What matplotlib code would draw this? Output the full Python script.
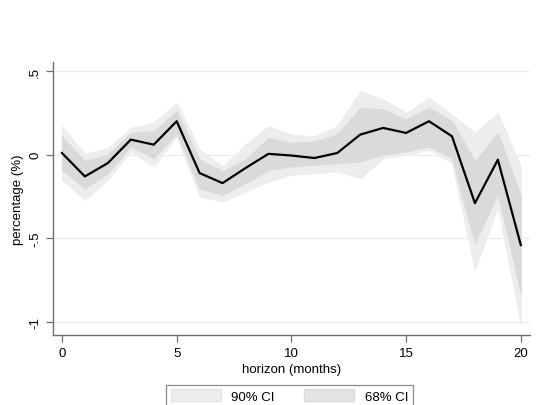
import numpy as np
import matplotlib.pyplot as plt
from matplotlib.patches import Patch

plt.rcParams['font.family'] = ['Liberation Sans', 'DejaVu Sans']

# impulse response over the horizon, with 68% and 90% bands
horizon = np.arange(21)
irf = [0.01, -0.13, -0.05, 0.09, 0.06, 0.20, -0.11, -0.17, -0.08, 0.005, -0.005,
       -0.02, 0.01, 0.12, 0.16, 0.13, 0.20, 0.11, -0.29, -0.03, -0.54]
lo68 = [-0.09, -0.20, -0.11, 0.05, -0.02, 0.13, -0.20, -0.24, -0.17, -0.09, -0.07,
        -0.06, -0.05, -0.04, 0.00, 0.02, 0.05, -0.02, -0.53, -0.23, -0.83]
hi68 = [0.11, -0.04, 0.00, 0.13, 0.14, 0.26, -0.03, -0.10, -0.03, 0.10, 0.07,
        0.08, 0.12, 0.28, 0.27, 0.21, 0.28, 0.20, -0.04, 0.13, -0.25]
lo90 = [-0.15, -0.27, -0.15, 0.02, -0.07, 0.11, -0.25, -0.28, -0.22, -0.16, -0.12,
        -0.11, -0.10, -0.14, -0.02, 0.00, 0.03, -0.05, -0.69, -0.31, -1.01]
hi90 = [0.17, 0.005, 0.04, 0.16, 0.19, 0.31, 0.03, -0.07, 0.06, 0.17, 0.12,
        0.11, 0.17, 0.38, 0.33, 0.25, 0.34, 0.24, 0.13, 0.25, -0.07]

c90 = '#ededed'
c68 = '#dadada'
axcol = '#707070'

fig = plt.figure(figsize=(5.5, 4.06), dpi=100)
ax = fig.add_axes([0.0964, 0.1724, 0.8672, 0.6724])

ax.fill_between(horizon, lo90, hi90, color=c90, lw=0.8, ec=c90, zorder=2)
ax.fill_between(horizon, lo68, hi68, color=c68, lw=0.8, ec=c68, zorder=3)
ax.plot(horizon, irf, color='black', lw=1.6, zorder=4)

ax.set_xlim(-0.39, 20.4)
ax.set_ylim(-1.078, 0.554)
ax.set_xticks([0, 5, 10, 15, 20])
ax.set_yticks([0.5, 0, -0.5, -1])
ax.set_yticklabels(['.5', '0', '-.5', '-1'], rotation=90, va='center')
ax.yaxis.grid(True, color='#e6eef0', lw=0.9, zorder=1)
ax.set_axisbelow(True)

for s in ['top', 'right']:
    ax.spines[s].set_visible(False)
for s in ['left', 'bottom']:
    ax.spines[s].set_color(axcol)
    ax.spines[s].set_linewidth(1.0)
ax.tick_params(colors=axcol, labelcolor='black', labelsize=9.5, length=5, width=0.9)

ax.set_xlabel('horizon (months)', fontsize=9.5, labelpad=3)
ax.set_ylabel('percentage (%)', fontsize=9.5, labelpad=4)

handles = [Patch(facecolor=c90, edgecolor='#e4e4e4', label='90% CI'),
           Patch(facecolor='#e4e4e4', edgecolor='#dadada', label='68% CI')]
leg = fig.legend(handles=handles, loc='upper center', bbox_to_anchor=(0.526, 0.066),
                 ncol=2, frameon=True, fancybox=False, fontsize=9.5,
                 handlelength=3.8, handleheight=1.0, columnspacing=2.2,
                 borderpad=0.35, edgecolor=axcol)
leg.get_frame().set_linewidth(0.9)

fig.savefig('out.png', dpi=100)
